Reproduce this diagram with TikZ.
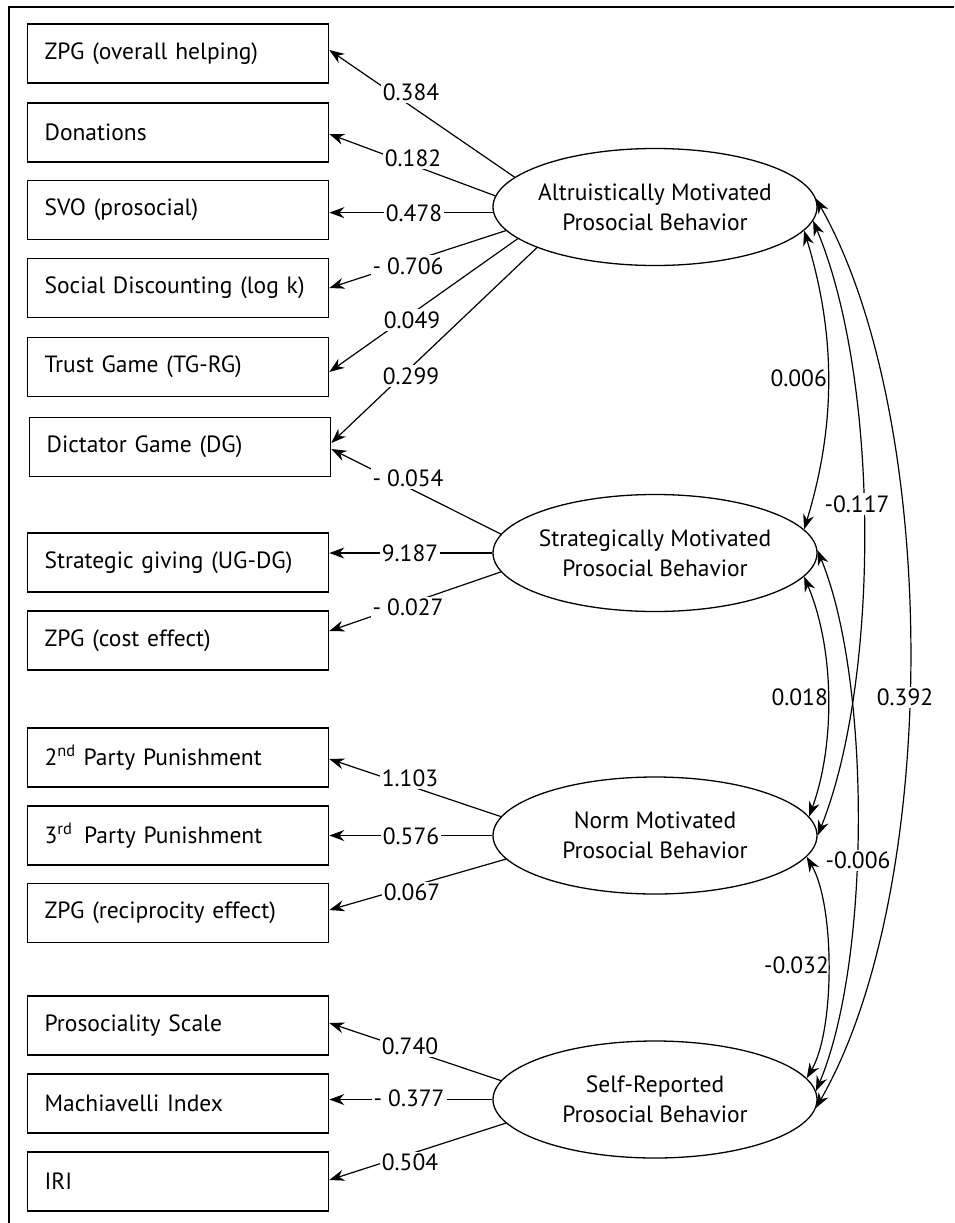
\documentclass[tikz,border=0pt]{standalone}
\usepackage{fontspec}
\setmainfont{PT Sans}
\usetikzlibrary{shapes.geometric,arrows.meta}
\begin{document}
\begin{tikzpicture}[x=1pt,y=-1pt,
  font=\fontsize{23.5}{30}\selectfont,
  ind/.style={draw, line width=1.3pt, rectangle, text width=267pt, inner xsep=17pt, inner ysep=0pt, minimum height=59pt, align=left, anchor=west},
  lat/.style={draw, line width=1.3pt, ellipse, minimum width=324pt, minimum height=117pt, inner xsep=-30pt, inner ysep=-12pt, align=center},
  load/.style={line width=1.2pt, -{Stealth[length=15pt,width=11pt]}},
  cov/.style={line width=1.2pt, {Stealth[length=15pt,width=11pt]}-{Stealth[length=15pt,width=11pt]}},
  lbl/.style={fill=white, inner sep=2pt},
  clbl/.style={inner sep=1pt, anchor=east},
]
\useasboundingbox (0,0) rectangle (954,1223);
\draw[line width=2pt] (9,1223) -- (9,7) -- (954,7);

% indicators
\node[ind] (Z1) at (27,53.5) {ZPG (overall helping)};
\node[ind] (DON) at (27,132.5) {Donations};
\node[ind] (SVO) at (27,210) {SVO (prosocial)};
\node[ind] (SD) at (27,288) {Social~Discounting~(log~k)};
\node[ind] (TG) at (27,367) {Trust Game (TG-RG)};
\node[ind] (DG) at (29,447) {Dictator Game (DG)};
\node[ind] (SG) at (27,562.5) {Strategic~giving~(UG-DG)};
\node[ind] (ZC) at (27,640.5) {ZPG (cost effect)};
\node[ind] (P2) at (27,757.5) {2\textsuperscript{nd} Party Punishment};
\node[ind] (P3) at (27,835.5) {3\textsuperscript{rd}\enspace Party Punishment};
\node[ind] (ZR) at (27,913) {ZPG~(reciprocity~effect)};
\node[ind] (PS) at (27,1025.5) {Prosociality Scale};
\node[ind] (MI) at (27,1103.5) {Machiavelli Index};
\node[ind] (IRI) at (27,1181.5) {IRI};

% latent variables
\node[lat] (A) at (655,207) {Altruistically Motivated\\Prosocial Behavior};
\node[lat] (S) at (655,553) {Strategically Motivated\\Prosocial Behavior};
\node[lat] (N) at (655,835.5) {Norm Motivated\\Prosocial Behavior};
\node[lat] (SR) at (655,1099.5) {Self-Reported\\Prosocial Behavior};

% loadings
\draw[load] (A.168) -- ([yshift=3.5pt]Z1.east);
\draw[load] (A.176) -- ([yshift=-1.5pt]DON.east);
\draw[load] (A.182) -- (A.182 -| SVO.east);
\draw[load] (A.189) -- (SD.east);
\draw[load] (A.193) -- ([yshift=-5pt]TG.east);
\draw[load] (A.199) -- ([yshift=4pt]DG.east);
\draw[load] (S.173) -- ([yshift=-2pt]DG.east);
\draw[load] (S.west) -- (S.west -| SG.east);
\draw[load] (S.187) -- ([yshift=9.5pt]ZC.east);
\draw[load] (N.173) -- ([yshift=-1.5pt]P2.east);
\draw[load] (N.west) -- (N.west -| P3.east);
\draw[load] (N.189) -- ([yshift=3pt]ZR.east);
\draw[load] (SR.173) -- ([yshift=2.5pt]PS.east);
\draw[load] (SR.west) -- (SR.west -| MI.east);
\draw[load] (SR.189) -- ([yshift=1.5pt]IRI.east);

% covariances
\draw[cov] (A.-9) .. controls (836,335) and (836,425) .. (S.9);
\draw[cov] (S.-9) .. controls (835,650) and (835,745) .. (N.7);
\draw[cov] (N.-8) .. controls (835,905) and (835,1030) .. (SR.8);
\draw[cov] (A.-5) .. controls (880,380) and (880,680) .. (N.east);
\draw[cov] (S.1) .. controls (871,680) and (871,960) .. (SR.3);
\draw[cov] (A.3) .. controls (941,420) and (941,890) .. (SR.-3);

% loading labels
\node[lbl] (l1) at (411,92) {0.384};
\node[lbl] (l2) at (413,158) {0.182};
\node[lbl] (l3) at (414,213) {0.478};
\node[lbl] (l4) at (408,266) {- 0.706};
\node[lbl] (l5) at (412,320) {0.049};
\node[lbl] (l6) at (411,376) {0.299};
\node[lbl] (l7) at (408,478) {- 0.054};
\node[lbl] (l8) at (410,553) {9.187};
\node[lbl] (l9) at (408,607) {- 0.027};
\node[lbl] (l10) at (410,778) {1.103};
\node[lbl] (l11) at (411,836) {0.576};
\node[lbl] (l12) at (412,892) {0.067};
\node[lbl] (l13) at (410,1046) {0.740};
\node[lbl] (l14) at (409,1098) {- 0.377};
\node[lbl] (l15) at (410,1162) {0.504};

% covariance labels
\node[clbl] (c1) at (828,378) {0.006};
\node[clbl] (c2) at (829,697) {0.018};
\node[clbl] (c3) at (830,965) {-0.032};
\node[lbl] (c4) at (857,504) {-0.117};
\node[lbl] (c5) at (858,860) {-0.006};
\node[lbl] (c6) at (905,697) {0.392};
\end{tikzpicture}
\end{document}
